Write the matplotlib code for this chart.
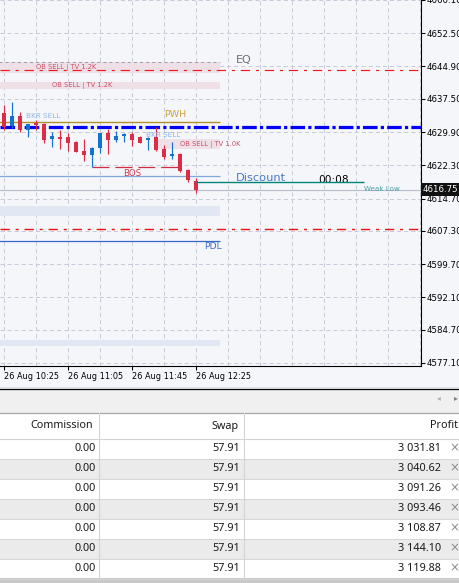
import matplotlib.pyplot as plt
from matplotlib.patches import Rectangle
from matplotlib.transforms import blended_transform_factory
import numpy as np

plt.rcParams['font.family'] = ['DejaVu Sans']
plt.rcParams['lines.scale_dashes'] = False

# M5 candles, 26 Aug 10:25 -> 12:25
opens = [4634.15, 4631.3, 4633.5, 4630.3, 4632.0, 4631.7, 4628.35, 4628.7, 4628.7,
         4627.7, 4625.5, 4624.6, 4626.15, 4629.65, 4628.2, 4629.1, 4629.35, 4628.7,
         4628.2, 4628.7, 4626.0, 4624.4, 4624.85, 4621.2, 4618.75]
highs = [4636.0, 4636.7, 4634.4, 4631.8, 4632.6, 4631.9, 4629.95, 4630.3, 4629.7,
         4627.8, 4628.3, 4626.5, 4629.7, 4630.7, 4630.1, 4629.65, 4629.9, 4628.95,
         4628.8, 4631.1, 4626.9, 4627.7, 4625.15, 4621.4, 4619.3]
lows = [4630.3, 4630.8, 4629.95, 4628.7, 4630.3, 4627.4, 4626.5, 4626.0, 4625.6,
        4625.3, 4623.3, 4621.95, 4625.1, 4625.0, 4627.7, 4627.7, 4626.75, 4627.3,
        4625.75, 4625.65, 4623.85, 4623.85, 4620.8, 4618.45, 4616.0]
closes = [4631.1, 4633.5, 4630.3, 4631.7, 4631.5, 4628.2, 4629.0, 4628.35, 4627.5,
          4625.4, 4624.6, 4626.15, 4629.6, 4628.2, 4628.95, 4629.3, 4628.2, 4627.5,
          4628.6, 4625.75, 4624.15, 4624.85, 4621.0, 4619.0, 4616.75]

tick_idx = [0, 8, 16, 24]
tick_times = ['26 Aug 10:25', '26 Aug 11:05', '26 Aug 11:45', '26 Aug 12:25']
price_ticks = [4577.10, 4584.70, 4592.10, 4599.70, 4607.30, 4614.70, 4622.30,
               4629.90, 4637.50, 4644.90, 4652.50, 4660.10]
bid = 4616.75
timer = '00:08'

# indicator levels
eq_level = 4644.2
pwh_level = 4632.1
blue_level = 4630.95
discount_level = 4619.75
weak_low_level = 4618.4
lower_red_level = 4607.65
pdl_level = 4605.1
bos_level = 4621.95
bos_from, bos_to = 11, 22
zone_end = 27

ob_bottoms = [4643.4, 4639.7, 4626.0]
ob_tops = [4645.95, 4641.3, 4628.3]
ob_starts = [-1, -1, 19]
ob_labels = ['OB SELL | TV 1.2K', 'OB SELL | TV 1.2K', 'OB SELL | TV 1.0K']
ob_label_x = [4, 6, 22]

zone_bottoms = [4610.7, 4581.05]
zone_tops = [4613.0, 4582.35]

# positions table
commission = ['0.00'] * 7
swap = ['57.91'] * 7
profit = [3031.81, 3040.62, 3091.26, 3093.46, 3108.87, 3144.10, 3119.88]

RED = '#DC2C46'
BLUE = '#1272D2'
BG = '#F5F6FA'
W, H = 460, 583

fig = plt.figure(figsize=(W / 100, H / 100), dpi=100)
fig.patch.set_facecolor(BG)

# ---- table / panel below the chart (pixel coordinates)
bg = fig.add_axes([0, 0, 1, 1], zorder=0)
bg.set_xlim(0, W)
bg.set_ylim(H, 0)
bg.axis('off')

bg.add_patch(Rectangle((0, 389), W, H - 389, fc='white', ec='none'))
bg.plot([0, W], [386.5, 386.5], color='#DADDE4', lw=0.7)
bg.plot([0, W], [388.8, 388.8], color='black', lw=0.9)
bg.add_patch(Rectangle((0, 389.5), W, 23, fc='#F0F0F0', ec='none'))
bg.plot([0, W], [412.8, 412.8], color='#A8A8A8', lw=0.9)
bg.text(438.5, 397.5, '\u25c2', fontsize=5.5, color='#B0B0B0', ha='center', va='center')
bg.text(456, 397.5, '\u25b8', fontsize=5.5, color='#808080', ha='center', va='center')

tfont = dict(family=['Noto Sans', 'DejaVu Sans'], fontsize=7.8, color='#1A1A1A', va='center')
bg.text(93, 426, 'Commission', ha='right', **tfont)
bg.text(239, 426, 'Swap', ha='right', **tfont)
bg.text(458, 426, 'Profit', ha='right', **tfont)
bg.plot([0, W], [438.5, 438.5], color='#D2D2D2', lw=0.8)

row_h = 20
for k in range(len(profit)):
    top = 438.8 + k * row_h
    fc = 'white' if k % 2 == 0 else '#EBEBEB'
    bg.add_patch(Rectangle((0, top), W, row_h, fc=fc, ec='none'))
    bg.plot([0, W], [top + row_h, top + row_h], color='#D6D6D6', lw=0.7)
    yc = top + row_h / 2 - 0.5
    bg.text(96, yc, commission[k], ha='right', **tfont)
    bg.text(240, yc, swap[k], ha='right', **tfont)
    p = f'{profit[k]:,.2f}'.replace(',', ' ')
    bg.text(441, yc, p, ha='right', **tfont)
    bg.text(454.5, yc, '\u00d7', ha='center', va='center', fontsize=8.5, color='#8C8C8C')
for xs in (99, 244):
    bg.plot([xs, xs], [413, 578], color='#D4D4D4', lw=0.8)
bg.add_patch(Rectangle((0, 578.3), W, H - 578.3, fc='#C8C8C8', ec='none'))

# ---- chart
ax = fig.add_axes([0, 1 - 366 / H, 421 / W, 366 / H], zorder=1)
ax.set_facecolor(BG)
ax.set_xlim(-0.5, 52.125)
ax.set_ylim(4576.41, 4660.1)

for s in ('top', 'left'):
    ax.spines[s].set_visible(False)
for s in ('right', 'bottom'):
    ax.spines[s].set_color('black')
    ax.spines[s].set_linewidth(0.8)

ax.yaxis.tick_right()
ax.set_yticks(price_ticks)
ax.set_yticklabels([f'{p:.2f}' for p in price_ticks])
ax.set_xticks(tick_idx)
ax.set_xticklabels(tick_times, ha='left')
ax.set_xticks(np.arange(0, 53, 4), minor=True)
ax.tick_params(axis='x', which='minor', length=0)
ax.tick_params(axis='both', which='major', direction='out', length=2.8, width=0.75,
               colors='black', pad=1.2)
ax.tick_params(axis='y', labelsize=6.2)
ax.tick_params(axis='x', labelsize=5.9, pad=1.5)
gstyle = dict(color='#C6CBD9', lw=0.72, ls=(0, (2.9, 2.2)))
ax.grid(True, which='both', axis='x', **gstyle)
ax.grid(True, which='major', axis='y', **gstyle)
ax.set_axisbelow(True)

# zones
for b, t in zip(zone_bottoms, zone_tops):
    ax.add_patch(Rectangle((-1, b), zone_end + 1, t - b, fc='#E1E8F3', ec='none', zorder=1))
for b, t, s0, lab, lx in zip(ob_bottoms, ob_tops, ob_starts, ob_labels, ob_label_x):
    ax.add_patch(Rectangle((s0, b), zone_end - s0, t - b, fc='#EFE0E7', ec='none', zorder=1))
    ax.text(lx, (b + t) / 2, lab, fontsize=4.9, color='#C9506A', va='center', zorder=3)
ax.hlines(ob_tops[0], -1, zone_end, color='#A0A0A0', lw=0.72, ls=(0, (2.2, 2.2)), zorder=2)

# levels
dashdot = (0, (6.7, 4.2, 2.2, 4.2))
ax.axhline(eq_level, color='#F01818', lw=0.85, ls=dashdot, zorder=2)
ax.axhline(lower_red_level, color='#F01010', lw=1.0, ls=dashdot, zorder=2)
ax.axhline(bid, color='#B7BCC9', lw=0.8, zorder=2)
ax.hlines(pwh_level, -1, zone_end, color='#B09228', lw=1.0, zorder=2)
ax.hlines(discount_level, -1, zone_end, color='#7FA8D8', lw=0.9, zorder=2)
ax.hlines(pdl_level, -1, zone_end, color='#3566C8', lw=0.9, zorder=2)
ax.hlines(weak_low_level, len(closes) - 1, 45, color='#00857A', lw=1.0, zorder=7)
ax.axhline(blue_level, color='#0000FF', lw=2.3, ls=(0, (10.5, 2.3, 2.3, 2.3)), zorder=3)
ax.hlines(bos_level, bos_from, bos_to, color='#D02C40', lw=0.9, ls=(0, (12.2, 4.3)), zorder=4)

# candles
x = np.arange(len(opens))
o, hi, lo, c = (np.array(v) for v in (opens, highs, lows, closes))
col = np.where(c >= o, BLUE, RED)
ax.vlines(x, lo, hi, colors=col, lw=0.85, zorder=5)
ax.bar(x, np.maximum(np.abs(c - o), 0.25), bottom=np.minimum(o, c), width=0.62,
       color=col, linewidth=0, zorder=6)

# labels
ax.text(2.75, 4633.5, 'BKR SELL', fontsize=5.2, color='#8DB6E6', va='center', zorder=8)
ax.text(17.75, 4629.2, 'BKR SELL', fontsize=5.2, color='#8DB6E6', va='center', zorder=8)
ax.text(20, 4634.0, 'PWH', fontsize=6.8, color='#C8A23C', va='center')
ax.text(29, 4646.3, 'EQ', fontsize=8, color='#6E6E6E', va='center')
ax.text(29, 4619.4, 'Discount', fontsize=8.2, color='#4A78C8', va='center')
ax.text(39.25, 4618.9, timer, fontsize=7.6, color='black', va='center')
ax.text(45, 4616.85, 'Weak Low', fontsize=5.1, color='#4AA0A8', va='center')
ax.text(16, 4620.5, 'BOS', fontsize=6.2, color='#D03A4E', va='center', ha='center')
ax.text(25, 4603.7, 'PDL', fontsize=6.7, color='#3F6FD0', va='center')

trans = blended_transform_factory(ax.transAxes, ax.transData)
ax.text(1.004, bid, f'{bid:.2f}', transform=trans, color='white', fontsize=6.2,
        va='center', ha='left', clip_on=False, zorder=10,
        bbox=dict(boxstyle='square,pad=0.22', fc='#111111', ec='none'))

fig.savefig('out.png', dpi=100, facecolor=fig.get_facecolor())
